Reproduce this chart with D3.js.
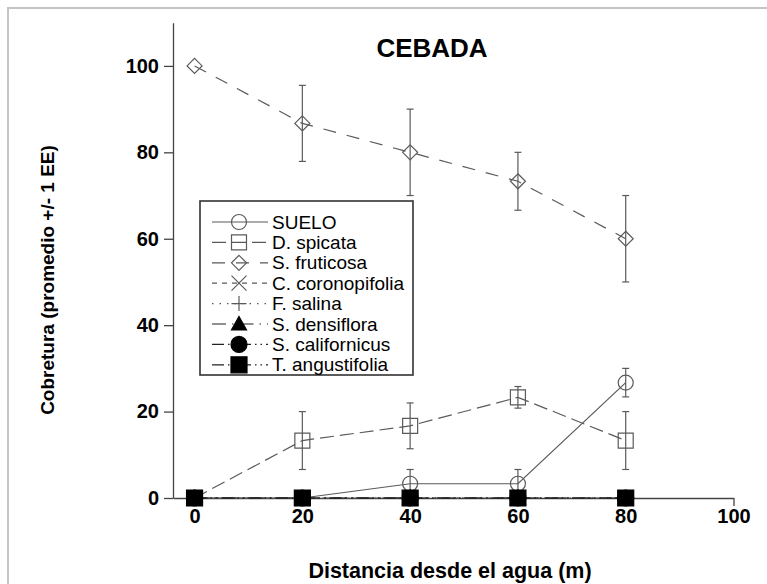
<!DOCTYPE html>
<html>
<head>
<meta charset="utf-8">
<script src="https://cdn.jsdelivr.net/npm/d3@7"></script>
<style>
  body { margin: 0; background: #fff; }
  svg { display: block; font-family: Arial, "Liberation Sans", sans-serif; }
</style>
</head>
<body>
<svg id="chart" width="767" height="584"></svg>
<script>
// datos
const distances = [0, 20, 40, 60, 80];
const xTicks = [0, 20, 40, 60, 80, 100];
const yTicks = [0, 20, 40, 60, 80, 100];

const speciesNames = ["SUELO", "D. spicata", "S. fruticosa", "C. coronopifolia",
    "F. salina", "S. densiflora", "S. californicus", "T. angustifolia"];

const sueloMean = [0, 0, 3.3, 3.3, 26.7];
const sueloErr = [0, 0, 3.3, 3.3, 3.3];
const spicataMean = [0, 13.3, 16.7, 23.3, 13.3];
const spicataErr = [0, 6.7, 5.3, 2.5, 6.7];
const fruticosaMean = [100, 86.7, 80, 73.3, 60];
const fruticosaErr = [0, 8.8, 10, 6.7, 10];
const coronopifoliaMean = [0, 0, 0, 0, 0];
const salinaMean = [0, 0, 0, 0, 0];
const densifloraMean = [0, 0, 0, 0, 0];
const californicusMean = [0, 0, 0, 0, 0];
const angustifoliaMean = [0, 0, 0, 0, 0];
const zeroErr = [0, 0, 0, 0, 0];

const series = [
    { name: speciesNames[0], mean: sueloMean, err: sueloErr, marker: "circle", dash: null },
    { name: speciesNames[1], mean: spicataMean, err: spicataErr, marker: "square", dash: "14,6" },
    { name: speciesNames[2], mean: fruticosaMean, err: fruticosaErr, marker: "diamond", dash: "13,11" },
    { name: speciesNames[3], mean: coronopifoliaMean, err: zeroErr, marker: "x", dash: "5,5" },
    { name: speciesNames[4], mean: salinaMean, err: zeroErr, marker: "plus", dash: "1.5,6" },
    { name: speciesNames[5], mean: densifloraMean, err: zeroErr, marker: "triangle", dash: "14,6,1.5,6" },
    { name: speciesNames[6], mean: californicusMean, err: zeroErr, marker: "dot", dash: "12,4,1.5,4,1.5,4" },
    { name: speciesNames[7], mean: angustifoliaMean, err: zeroErr, marker: "block", dash: "12,4,1.5,4,1.5,4" },
];

const svg = d3.select("#chart");
const grey = "#5a5a5a";

const x = d3.scaleLinear().domain([-4, 100]).range([173, 733.5]);
const y = d3.scaleLinear().domain([0, 110]).range([498, 22.7]);

// marco gris
svg.append("path")
    .attr("d", "M8,584 L8,8 L767,8")
    .attr("fill", "none")
    .attr("stroke", "#c4c4c4")
    .attr("stroke-width", 2);

function markerPath(type, s) {
    const h = s / 2;
    switch (type) {
        case "square":
        case "block":
            return `M${-h},${-h}H${h}V${h}H${-h}Z`;
        case "diamond":
            return `M0,${-h}L${h},0L0,${h}L${-h},0Z`;
        case "x":
            return `M${-h},${-h}L${h},${h}M${-h},${h}L${h},${-h}`;
        case "plus":
            return `M${-h},0H${h}M0,${-h}V${h}`;
        case "triangle":
            return `M0,${-h}L${h},${h * 0.8}L${-h},${h * 0.8}Z`;
        default:
            return `M${h},0A${h},${h} 0 1,1 ${-h},0A${h},${h} 0 1,1 ${h},0Z`;
    }
}

function markerSize(type) {
    if (type === "block") return 16;
    if (type === "dot") return 16;
    return 15;
}

function isFilled(type) {
    return type === "triangle" || type === "dot" || type === "block";
}

function drawMarker(g, type) {
    g.append("path")
        .attr("d", markerPath(type, markerSize(type)))
        .attr("fill", isFilled(type) ? "#000" : "none")
        .attr("stroke", isFilled(type) ? "#000" : grey)
        .attr("stroke-width", 1.2);
}

// ejes
const xAxis = svg.append("g")
    .attr("transform", `translate(0,${y(0)})`)
    .call(d3.axisBottom(x).tickValues(xTicks).tickSize(8).tickSizeOuter(0).tickPadding(3));
const yAxis = svg.append("g")
    .attr("transform", `translate(${x(-4)},0)`)
    .call(d3.axisLeft(y).tickValues(yTicks).tickSize(9).tickSizeOuter(0).tickPadding(5));

[xAxis, yAxis].forEach((ax) => {
    ax.select(".domain").attr("stroke", "#444").attr("stroke-width", 1.3);
    ax.selectAll(".tick line").attr("stroke", "#444").attr("stroke-width", 1.3);
    ax.selectAll(".tick text")
        .attr("fill", "#000")
        .style("font-size", "20px")
        .style("font-weight", "bold");
});

const line = d3.line()
    .x((d) => x(d.x))
    .y((d) => y(d.y));

// lineas
series.forEach((s) => {
    const pts = distances.map((d, i) => ({ x: d, y: s.mean[i] }));
    svg.append("path")
        .datum(pts)
        .attr("d", line)
        .attr("fill", "none")
        .attr("stroke", isFilled(s.marker) ? "#222" : grey)
        .attr("stroke-width", 1.2)
        .attr("stroke-dasharray", s.dash);
});

// barras de error
series.forEach((s) => {
    distances.forEach((d, i) => {
        if (!s.err[i]) return;
        const lo = Math.max(0, s.mean[i] - s.err[i]);
        const hi = s.mean[i] + s.err[i];
        const g = svg.append("g").attr("stroke", grey).attr("stroke-width", 1.2);
        g.append("line").attr("x1", x(d)).attr("x2", x(d)).attr("y1", y(lo)).attr("y2", y(hi));
        g.append("line").attr("x1", x(d) - 3.5).attr("x2", x(d) + 3.5).attr("y1", y(hi)).attr("y2", y(hi));
        if (lo > 0) {
            g.append("line").attr("x1", x(d) - 3.5).attr("x2", x(d) + 3.5).attr("y1", y(lo)).attr("y2", y(lo));
        }
    });
});

// marcadores
series.forEach((s) => {
    distances.forEach((d, i) => {
        const g = svg.append("g").attr("transform", `translate(${x(d)},${y(s.mean[i])})`);
        drawMarker(g, s.marker);
    });
});

// titulos
svg.append("text")
    .attr("x", 432)
    .attr("y", 57)
    .attr("text-anchor", "middle")
    .style("font-size", "26px")
    .style("font-weight", "bold")
    .text("CEBADA");

svg.append("text")
    .attr("x", 450)
    .attr("y", 578)
    .attr("text-anchor", "middle")
    .style("font-size", "21.5px")
    .style("font-weight", "bold")
    .text("Distancia desde el agua (m)");

svg.append("text")
    .attr("transform", "translate(54,280) rotate(-90)")
    .attr("text-anchor", "middle")
    .style("font-size", "19px")
    .style("font-weight", "bold")
    .text("Cobretura (promedio +/- 1 EE)");

// leyenda
const legend = svg.append("g").attr("transform", "translate(200,201)");
legend.append("rect")
    .attr("width", 213)
    .attr("height", 174)
    .attr("fill", "#fff")
    .attr("stroke", "#333")
    .attr("stroke-width", 1.6);

series.forEach((s, i) => {
    const row = legend.append("g").attr("transform", `translate(0,${21 + i * 20.4})`);
    row.append("line")
        .attr("x1", 12).attr("x2", 68)
        .attr("stroke", isFilled(s.marker) ? "#222" : grey)
        .attr("stroke-width", 1.2)
        .attr("stroke-dasharray", s.dash);
    const m = row.append("g").attr("transform", "translate(39,0)");
    drawMarker(m, s.marker);
    row.append("text")
        .attr("x", 72)
        .attr("y", 6.5)
        .style("font-size", "19px")
        .text(s.name);
});
</script>
</body>
</html>
